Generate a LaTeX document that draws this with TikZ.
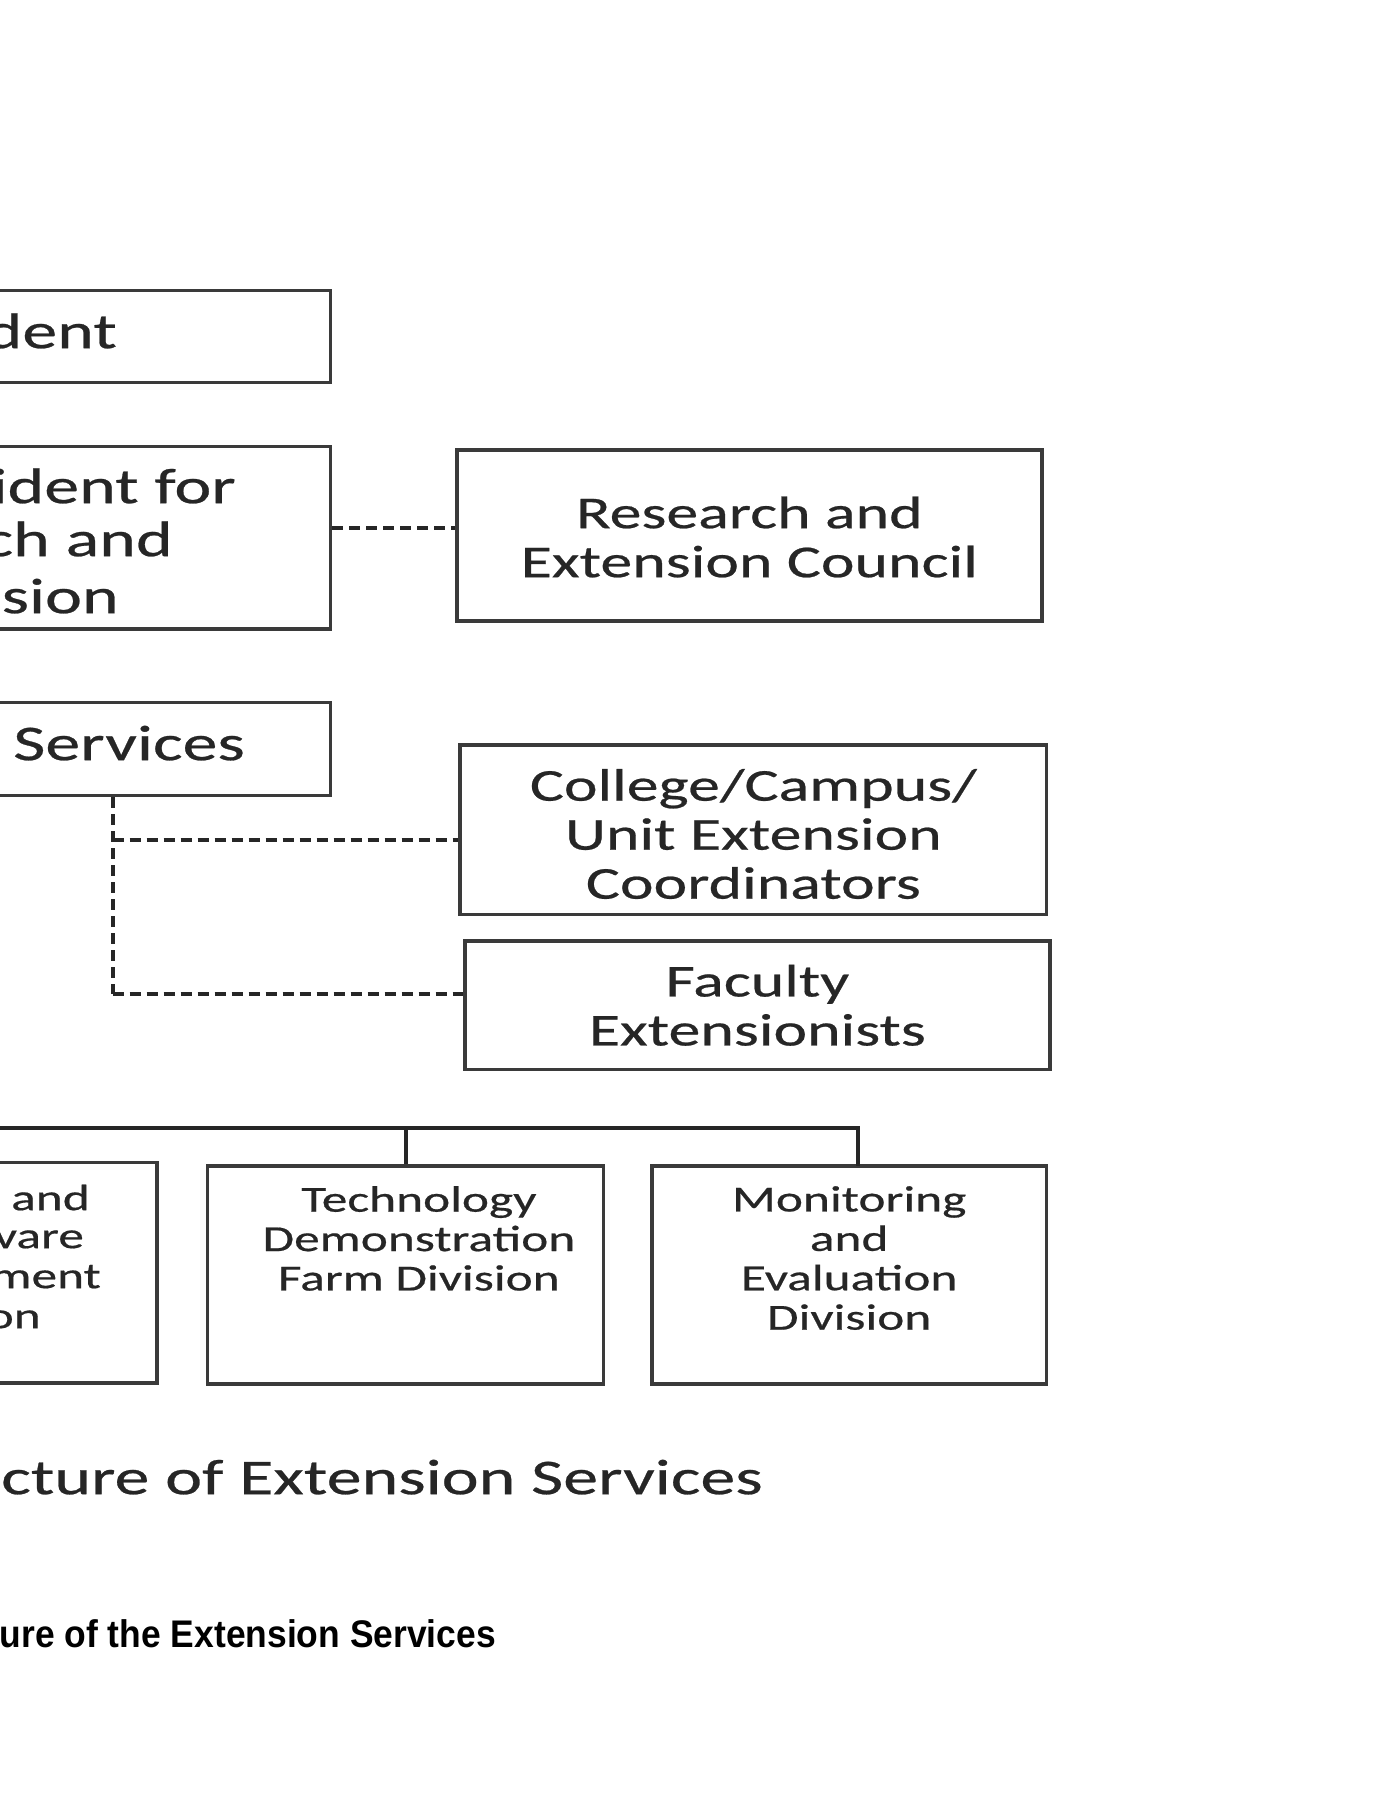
\documentclass[tikz,border=0pt]{standalone}
\usepackage{fontspec}
\newfontfamily\chartfont[FakeStretch=1.4,FakeBold=0.5]{Carlito}
\newfontfamily\capfont[FakeStretch=0.92]{Liberation Sans}
\definecolor{boxline}{HTML}{3A3A3A}
\definecolor{inktext}{HTML}{262626}
\begin{document}
\begin{tikzpicture}[x=1pt,y=-1pt,
  box/.style={draw=boxline, line width=3.5pt, rectangle, inner sep=0pt},
  dashlink/.style={draw=black!85, line width=4pt, dash pattern=on 11pt off 6pt},
  treelink/.style={draw=black!85, line width=4pt},
  bigtxt/.style={text=inktext, inner sep=0pt, font=\chartfont\fontsize{50}{55}\selectfont},
  midtxt/.style={text=inktext, inner sep=0pt, align=center, font=\chartfont\fontsize{45.6}{49}\selectfont},
  smalltxt/.style={text=inktext, inner sep=0pt, align=center, font=\chartfont\fontsize{36.7}{39.4}\selectfont},
  captxt/.style={text=black, inner sep=0pt, font=\capfont\bfseries\fontsize{38.5}{42}\selectfont}]
\useasboundingbox (0,0) rectangle (1376,1800);
\fill[white] (0,0) rectangle (1376,1800);
\clip (0,0) rectangle (1376,1800);
% boxes
\node[box, minimum width=390pt, minimum height=92pt] (pres) at (135.5,336.3) {};
\node[box, minimum width=390pt, minimum height=182.5pt] (vp) at (135.5,537.6) {};
\node[box, minimum width=585.3pt, minimum height=170.9pt] (rec) at (749.4,535.3) {};
\node[box, minimum width=390pt, minimum height=93pt] (svc) at (135.5,748.8) {};
\node[box, minimum width=586.4pt, minimum height=169.8pt] (coll) at (753.4,829.7) {};
\node[box, minimum width=585.2pt, minimum height=128.6pt] (fac) at (757.4,1005.3) {};
\node[box, minimum width=217.2pt, minimum height=220.4pt] (left) at (48.6,1272.7) {};
\node[box, minimum width=395.9pt, minimum height=218pt] (tech) at (405.6,1275) {};
\node[box, minimum width=394.8pt, minimum height=218pt] (me) at (849.2,1275) {};
% texts in left-cut boxes
\node[bigtxt, anchor=mid east] (tpres) at (117,346) {dent};
\node[bigtxt, anchor=mid east] (tvp1) at (236,501) {ident for};
\node[bigtxt, anchor=mid east] (tvp2) at (173,554) {ch and};
\node[bigtxt, anchor=mid east] (tvp3) at (119,611) {sion};
\node[bigtxt, anchor=mid east] (tsvc) at (245,758) {Services};
\node[smalltxt, anchor=mid east] (tl1) at (90,1208) {and};
\node[smalltxt, anchor=mid east] (tl2) at (84,1246) {vare};
\node[smalltxt, anchor=mid east] (tl3) at (101,1286) {ment};
\node[smalltxt, anchor=mid east] (tl4) at (41,1326) {on};
% texts in full boxes
\node[midtxt] (trec) at (749.4,537) {Research and\\Extension Council};
\node[midtxt] (tcoll) at (753.4,834) {College/Campus/\\Unit Extension\\Coordinators};
\node[midtxt] (tfac) at (fac.center) {Faculty\\Extensionists};
\node[smalltxt, anchor=north] (ttech) at (418.9,1186) {Technology\\Demonstration\\Farm Division};
\node[smalltxt, anchor=north] (tme) at (849.2,1186) {Monitoring\\and\\Evaluation\\Division};
% connectors
\draw[dashlink] (vp.east |- 0,528) -- (rec.west |- 0,528);
\coordinate (j1) at (112.5,840);
\coordinate (j2) at (112.5,994);
\draw[dashlink] (svc.south -| j1) -- (j2);
\draw[dashlink] (j1) -- (coll.west |- j1);
\draw[dashlink] (j2) -- (fac.west |- j2);
\coordinate (busleft) at (-10,1128);
\coordinate (metop) at (858.4,1166);
\draw[treelink] (busleft) -| (metop);
\draw[treelink] (tech.north) -- (tech.north |- busleft);
% captions
\node[bigtxt, anchor=mid east] (cap1) at (763,1492) {cture of Extension Services};
\node[captxt, anchor=mid east] (cap2) at (496,1645) {ure of the Extension Services};
\end{tikzpicture}
\end{document}
